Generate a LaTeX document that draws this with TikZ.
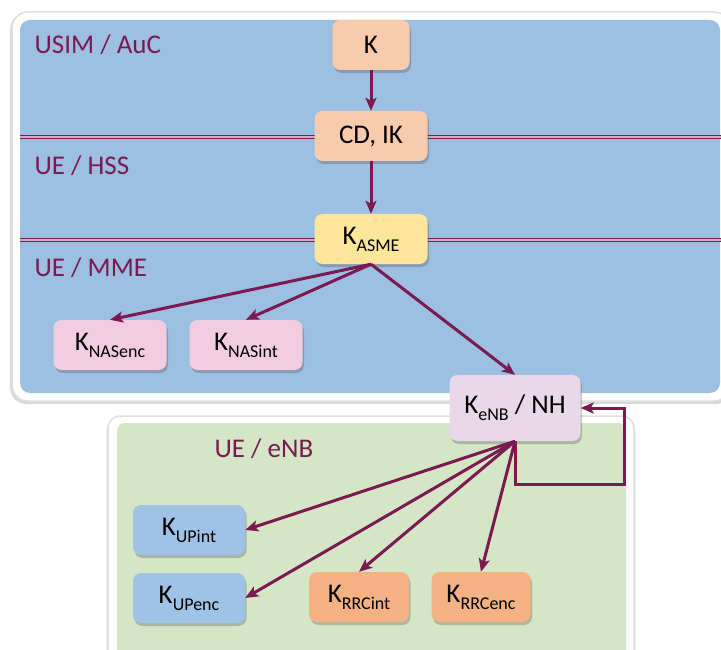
\documentclass[tikz,border=0pt]{standalone}
\usepackage{fontspec}
\setmainfont{Carlito}
\usetikzlibrary{arrows.meta,shadows}
\definecolor{plum}{HTML}{7A1A50}
\definecolor{skyblue}{HTML}{9DC0E2}
\definecolor{leaf}{HTML}{D4E6C6}
\definecolor{peach}{HTML}{F9CBAD}
\definecolor{butter}{HTML}{FDE59A}
\definecolor{rose}{HTML}{F2CDE1}
\definecolor{lilac}{HTML}{E8D8E9}
\definecolor{upblue}{HTML}{9EC3E6}
\definecolor{rrcorange}{HTML}{F4B183}
\newcommand{\ksub}[1]{K\raisebox{-7pt}{\fontsize{18}{18}\selectfont #1}}
\tikzset{
  keybox/.style={rectangle, rounded corners=8pt, minimum width=113pt, minimum height=50pt, inner sep=0pt,
    drop shadow={shadow xshift=1.5pt, shadow yshift=-3pt, opacity=0.3, fill=black!70}},
  lbl/.style={anchor=west, text=plum},
  arr/.style={draw=plum, line width=3pt, -{Stealth[length=13pt,width=11pt,inset=3pt]}},
  sepline/.style={draw=plum, line width=0.9pt, double=plum!35, double distance=2pt},
  frame/.style={fill=white, draw=black!12, line width=1.5pt,
    drop shadow={shadow xshift=0pt, shadow yshift=-2pt, shadow scale=1.005, opacity=0.25, fill=black!60}}
}
\begin{document}
\begin{tikzpicture}[x=1pt, y=-1pt, every node/.style={font=\fontsize{27}{30}\selectfont}]
        \useasboundingbox (0,0) rectangle (721,650);
        % frames
        \path[frame, rounded corners=16pt] (12,12) rectangle (730,401);
        \fill[skyblue, rounded corners=10pt] (20,20) rectangle (720,393);
        \path[frame, rounded corners=12pt] (108,416) rectangle (634,680);
        \fill[leaf, rounded corners=8pt] (117,423) rectangle (626,670);
        \draw[sepline] (20,137) -- (721,137);
        \draw[sepline] (20,240) -- (721,240);

        \node[lbl] (usim) at (31,45) {USIM / AuC};
        \node[lbl] (hss) at (31,166) {UE / HSS};
        \node[lbl] (mme) at (31,268) {UE / MME};
        \node[lbl] (enbl) at (211,449) {UE / eNB};

        \node[keybox, fill=peach, minimum width=77pt] (k) at (371,45) {K};
        \node[keybox, fill=peach] (ck) at (371,136) {CD, IK};
        \node[keybox, fill=butter] (asme) at (371,239) {\ksub{ASME}};
        \node[keybox, fill=rose] (nasenc) at (110,345) {\ksub{NASenc}};
        \node[keybox, fill=rose] (nasint) at (246,345) {\ksub{NASint}};
        \node[keybox, fill=lilac, minimum width=131pt, minimum height=66pt] (enb) at (515,408) {\ksub{eNB} / NH};
        \node[keybox, fill=upblue, minimum width=112pt] (upint) at (189,530) {\ksub{UPint}};
        \node[keybox, fill=upblue, minimum width=112pt] (upenc) at (189,598) {\ksub{UPenc}};
        \node[keybox, fill=rrcorange, minimum width=100pt] (rrcint) at (359,597) {\ksub{RRCint}};
        \node[keybox, fill=rrcorange, minimum width=99pt] (rrcenc) at (481,597) {\ksub{RRCenc}};
        \coordinate (loop) at (624,484);

        \draw[arr] (k) -- (ck);
        \draw[arr] (ck) -- (asme);
        \draw[arr] (asme.south) -- (nasenc.north);
        \draw[arr] (asme.south) -- (nasint.north);
        \draw[arr] (asme.south) -- (enb.north);
        \draw[arr] (enb.south) -- (upint.east);
        \draw[arr] (enb.south) -- (upenc.east);
        \draw[arr] (enb.south) -- (rrcint.north);
        \draw[arr] (enb.south) -- (rrcenc.north);
        \draw[arr] (enb.south) |- (loop) |- (enb.east);
    \end{tikzpicture}
\end{document}
